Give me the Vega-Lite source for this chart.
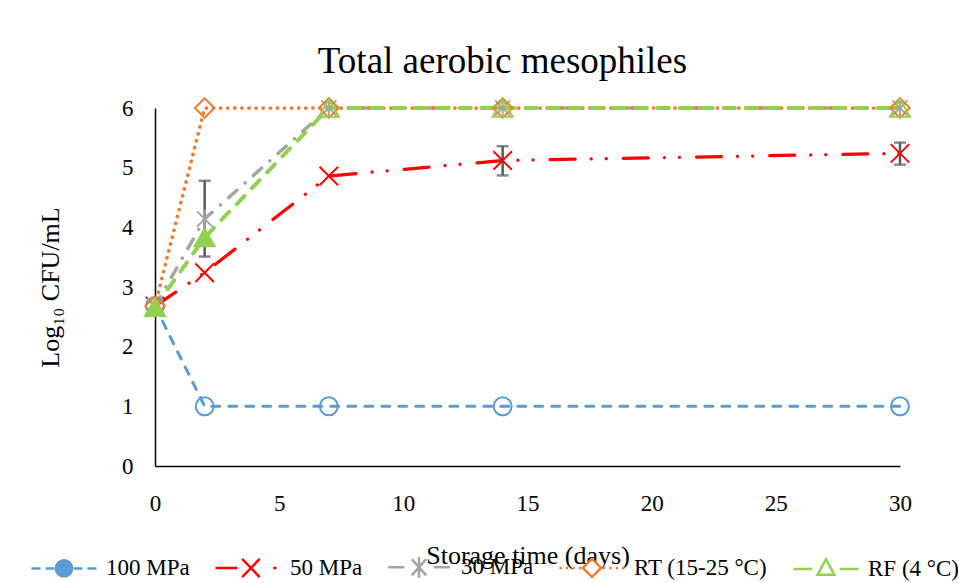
{
  "$schema": "https://vega.github.io/schema/vega-lite/v6.json",
  "width": 745,
  "height": 358,
  "autosize": {"type": "none"},
  "padding": {"left": 155, "top": 108, "right": 59, "bottom": 117},
  "background": "white",
  "config": {"view": {"stroke": null}, "font": "Liberation Serif"},
  "title": {
    "text": "Total aerobic mesophiles",
    "font": "Liberation Serif",
    "fontSize": 37,
    "fontWeight": "normal",
    "color": "#000000",
    "anchor": "middle",
    "frame": "group",
    "baseline": "alphabetic",
    "offset": 36,
    "dx": -25,
    "dy": 52
  },
  "data": {
    "values": [
      {"series": "100 MPa", "day": 0, "value": 2.68, "lo": null, "hi": null},
      {"series": "100 MPa", "day": 2, "value": 1.0, "lo": null, "hi": null},
      {"series": "100 MPa", "day": 7, "value": 1.0, "lo": null, "hi": null},
      {"series": "100 MPa", "day": 14, "value": 1.0, "lo": null, "hi": null},
      {"series": "100 MPa", "day": 30, "value": 1.0, "lo": null, "hi": null},
      {"series": "50 MPa", "day": 0, "value": 2.68, "lo": null, "hi": null},
      {"series": "50 MPa", "day": 2, "value": 3.24, "lo": null, "hi": null},
      {"series": "50 MPa", "day": 7, "value": 4.86, "lo": null, "hi": null},
      {"series": "50 MPa", "day": 14, "value": 5.12, "lo": 4.87, "hi": 5.36},
      {"series": "50 MPa", "day": 30, "value": 5.24, "lo": 5.05, "hi": 5.42},
      {"series": "30 MPa", "day": 0, "value": 2.68, "lo": null, "hi": null},
      {"series": "30 MPa", "day": 2, "value": 4.14, "lo": 3.51, "hi": 4.78},
      {"series": "30 MPa", "day": 7, "value": 6.0, "lo": null, "hi": null},
      {"series": "30 MPa", "day": 14, "value": 6.0, "lo": null, "hi": null},
      {"series": "30 MPa", "day": 30, "value": 6.0, "lo": null, "hi": null},
      {"series": "RT (15-25 °C)", "day": 0, "value": 2.68, "lo": null, "hi": null},
      {"series": "RT (15-25 °C)", "day": 2, "value": 6.0, "lo": null, "hi": null},
      {"series": "RT (15-25 °C)", "day": 7, "value": 6.0, "lo": null, "hi": null},
      {"series": "RT (15-25 °C)", "day": 14, "value": 6.0, "lo": null, "hi": null},
      {"series": "RT (15-25 °C)", "day": 30, "value": 6.0, "lo": null, "hi": null},
      {"series": "RF (4 °C)", "day": 0, "value": 2.66, "lo": null, "hi": null},
      {"series": "RF (4 °C)", "day": 2, "value": 3.83, "lo": null, "hi": null},
      {"series": "RF (4 °C)", "day": 7, "value": 6.0, "lo": null, "hi": null},
      {"series": "RF (4 °C)", "day": 14, "value": 6.0, "lo": null, "hi": null},
      {"series": "RF (4 °C)", "day": 30, "value": 6.0, "lo": null, "hi": null}
    ]
  },
  "encoding": {
    "x": {
      "field": "day",
      "type": "quantitative",
      "scale": {"domain": [0, 30], "nice": false, "zero": false},
      "axis": {
        "values": [0, 5, 10, 15, 20, 25, 30],
        "ticks": false,
        "grid": false,
        "domainColor": "#000000",
        "domainWidth": 1.5,
        "labelFont": "Liberation Serif",
        "labelFontSize": 23,
        "labelColor": "#000000",
        "labelPadding": 26,
        "labelFlush": false,
        "labelOverlap": false,
        "title": "Storage time (days)",
        "titleFont": "Liberation Serif",
        "titleFontSize": 26,
        "titleFontWeight": "normal",
        "titleColor": "#000000",
        "titleBaseline": "alphabetic",
        "titleY": 97
      }
    },
    "y": {
      "field": "value",
      "type": "quantitative",
      "scale": {"domain": [0, 6], "nice": false},
      "axis": {
        "values": [0, 1, 2, 3, 4, 5, 6],
        "ticks": false,
        "grid": false,
        "domainColor": "#000000",
        "domainWidth": 1.5,
        "labelFont": "Liberation Serif",
        "labelFontSize": 23,
        "labelColor": "#000000",
        "labelPadding": 22,
        "labelFlush": false,
        "labelOverlap": false,
        "title": "Log₁₀ CFU/mL",
        "titleFont": "Liberation Serif",
        "titleFontSize": 26,
        "titleFontWeight": "normal",
        "titleColor": "#000000",
        "titleBaseline": "alphabetic",
        "titleAngle": -90,
        "titleAlign": "center",
        "titleX": -97,
        "titleY": 179
      }
    }
  },
  "layer": [
    {
      "mark": {"type": "line", "strokeCap": "round", "opacity": 1},
      "encoding": {
        "color": {
          "field": "series",
          "type": "nominal",
          "scale": {
            "domain": ["100 MPa", "50 MPa", "30 MPa", "RT (15-25 °C)", "RF (4 °C)"],
            "range": ["#5B9BD5", "#FF0000", "#A5A5A5", "#ED7D31", "#92D050"]
          },
          "legend": null
        },
        "strokeDash": {
          "field": "series",
          "type": "nominal",
          "scale": {
            "domain": ["100 MPa", "50 MPa", "30 MPa", "RT (15-25 °C)", "RF (4 °C)"],
            "range": [[8, 9], [25, 16, 0.1, 15, 0.1, 17], [11, 11, 0.1, 11], [0.1, 7], [11, 11]]
          },
          "legend": null
        },
        "strokeWidth": {
          "field": "series",
          "type": "nominal",
          "scale": {
            "domain": ["100 MPa", "50 MPa", "30 MPa", "RT (15-25 °C)", "RF (4 °C)"],
            "range": [3, 4, 3, 3, 3]
          },
          "legend": null
        }
      }
    },
    {
      "transform": [{"filter": "isValid(datum.lo)"}],
      "mark": {"type": "errorbar", "color": "#595959", "thickness": 2.5, "ticks": {"size": 12, "thickness": 2.5, "color": "#595959"}},
      "encoding": {
        "y": {"field": "lo", "type": "quantitative", "title": "Log₁₀ CFU/mL"},
        "y2": {"field": "hi"}
      }
    },
    {
      "mark": {"type": "point", "filled": false, "strokeWidth": 2, "opacity": 1},
      "encoding": {
        "color": {"field": "series", "type": "nominal", "legend": null},
        "shape": {
          "field": "series",
          "type": "nominal",
          "scale": {
            "domain": ["100 MPa", "50 MPa", "30 MPa", "RT (15-25 °C)", "RF (4 °C)"],
            "range": [
              "circle",
              "M-1,-1L1,1M-1,1L1,-1",
              "M-0.8,-0.8L0.8,0.8M-0.8,0.8L0.8,-0.8M0,-1L0,1",
              "diamond",
              "triangle-up"
            ]
          },
          "legend": null
        },
        "size": {
          "field": "series",
          "type": "nominal",
          "scale": {
            "domain": ["100 MPa", "50 MPa", "30 MPa", "RT (15-25 °C)", "RF (4 °C)"],
            "range": [324, 400, 400, 324, 441]
          },
          "legend": null
        },
        "fill": {
          "condition": {"test": "datum.series === 'RF (4 °C)' && datum.day <= 2", "value": "#92D050"},
          "value": "transparent"
        }
      }
    },
    {
      "transform": [{"filter": "datum.day < 0"}],
      "mark": {"type": "point", "opacity": 1, "strokeWidth": 2.5},
      "encoding": {
        "shape": {
          "field": "series",
          "type": "nominal",
          "scale": {
            "domain": ["100 MPa", "50 MPa", "30 MPa", "RT (15-25 °C)", "RF (4 °C)"],
            "range": [
              "M-1,0H-0.72M-0.56,0H-0.3M0.3,0H0.56M0.72,0H1M0.25,0A0.25,0.25 0 1,1 -0.25,0A0.25,0.25 0 1,1 0.25,0Z",
              "M-1,0H-0.32M-0.18,-0.28L0.36,0.28M-0.18,0.28L0.36,-0.28M0.78,0H0.88",
              "M-0.95,0H-0.45M0.45,0H0.95M-0.22,-0.25L0.22,0.25M-0.22,0.25L0.22,-0.25M0,-0.32V0.32",
              "M-1,0h0.07M-0.8,0h0.07M-0.6,0h0.07M-0.4,0h0.07M0.33,0h0.07M0.53,0h0.07M0.73,0h0.07M0.93,0h0.07M0,-0.28L0.28,0L0,0.28L-0.28,0Z",
              "M-1,0H-0.42M0.42,0H1M0,-0.3L0.26,0.18L-0.26,0.18Z"
            ]
          },
          "legend": {
            "orient": "none", "legendX": -125, "legendY": 425, "direction": "horizontal", "title": null,
            "symbolSize": 4225, "symbolStrokeWidth": 2.5, "labelFont": "Liberation Serif", "labelFontSize": 23,
            "labelColor": "#000000", "labelOffset": 8, "columnPadding": 20, "padding": 0, "labelLimit": 0
          }
        },
        "stroke": {
          "field": "series",
          "type": "nominal",
          "scale": {
            "domain": ["100 MPa", "50 MPa", "30 MPa", "RT (15-25 °C)", "RF (4 °C)"],
            "range": ["#5B9BD5", "#FF0000", "#A5A5A5", "#ED7D31", "#92D050"]
          },
          "legend": {
            "orient": "none", "legendX": -125, "legendY": 425, "direction": "horizontal", "title": null,
            "symbolSize": 4225, "symbolStrokeWidth": 2.5, "labelFont": "Liberation Serif", "labelFontSize": 23,
            "labelColor": "#000000", "labelOffset": 8, "columnPadding": 20, "padding": 0, "labelLimit": 0
          }
        },
        "fill": {
          "field": "series",
          "type": "nominal",
          "scale": {
            "domain": ["100 MPa", "50 MPa", "30 MPa", "RT (15-25 °C)", "RF (4 °C)"],
            "range": ["#5B9BD5", "#FFFFFF", "#FFFFFF", "#FFFFFF", "#FFFFFF"]
          },
          "legend": {
            "orient": "none", "legendX": -125, "legendY": 425, "direction": "horizontal", "title": null,
            "symbolSize": 4225, "symbolStrokeWidth": 2.5, "labelFont": "Liberation Serif", "labelFontSize": 23,
            "labelColor": "#000000", "labelOffset": 8, "columnPadding": 20, "padding": 0, "labelLimit": 0
          }
        }
      }
    }
  ],
  "resolve": {
    "scale": {"shape": "independent", "stroke": "independent", "fill": "independent"},
    "legend": {"shape": "independent", "stroke": "independent", "fill": "independent"}
  }
}
